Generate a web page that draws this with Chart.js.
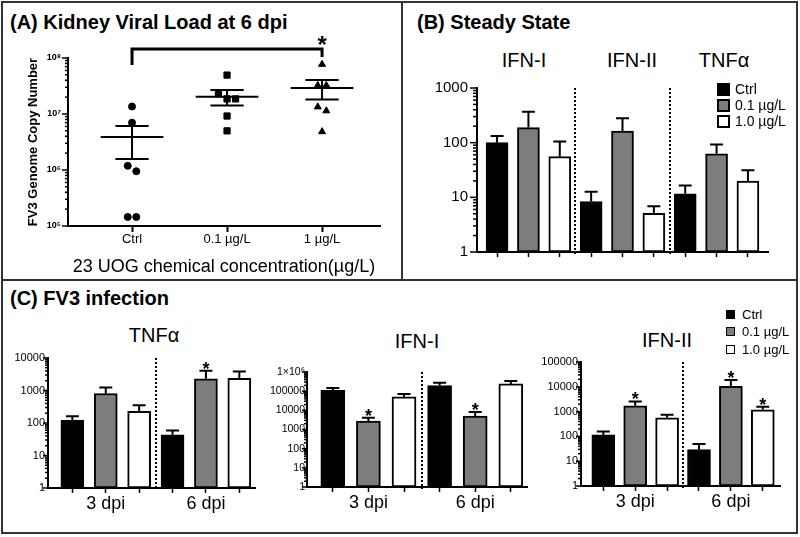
<!DOCTYPE html>
<html lang="en">
<head>
<meta charset="utf-8">
<title>23 UOG chemicals and FV3</title>
<script src="https://cdn.jsdelivr.net/npm/chart.js@4.4.1/dist/chart.umd.min.js"></script>
<style>
  body { margin: 0; width: 800px; height: 537px; position: relative; overflow: hidden; background: #fff;
         font-family: "Liberation Sans", Arial, Helvetica, sans-serif; color: #000; }
  canvas, .txt { position: absolute; }
  .txt { white-space: nowrap; line-height: 20px; }
  .panel { font-size: 20px; font-weight: bold; }
  .group { font-size: 20px; transform: translateX(-50%); }
  .frame { position: absolute; box-sizing: border-box; border: 2px solid #333; }
  .rule { position: absolute; background: #333; }
  .key { position: absolute; display: flex; align-items: center; white-space: nowrap; }
  .key .box { box-sizing: border-box; border: 2px solid #000; display: inline-block; }
</style>
</head>
<body>
<div class="frame" style="left:1px;top:1px;width:797px;height:533px"></div>
<div class="rule" style="left:401px;top:1px;width:2px;height:280px"></div>
<div class="rule" style="left:1px;top:279px;width:797px;height:2px"></div>

<div class="txt panel" style="left:10px;top:12px">(A) Kidney Viral Load at 6 dpi</div>
<div class="txt panel" style="left:417px;top:12px">(B) Steady State</div>
<div class="txt panel" style="left:10px;top:288px">(C) FV3 infection</div>

<div class="txt group" style="left:524px;top:50px">IFN-I</div>
<div class="txt group" style="left:632px;top:50px">IFN-II</div>
<div class="txt group" style="left:724px;top:50px">TNFα</div>

<div class="txt group" style="left:154px;top:325px">TNFα</div>
<div class="txt group" style="left:417px;top:331px">IFN-I</div>
<div class="txt group" style="left:667px;top:330px">IFN-II</div>

<canvas id="chartA" width="372" height="248" style="left:20px;top:30px"></canvas>
<canvas id="chartB" width="360" height="200" style="left:420px;top:70px"></canvas>
<canvas id="chartTnf" width="262" height="167" style="left:0px;top:348px"></canvas>
<canvas id="chartIfn1" width="270" height="167" style="left:262px;top:348px"></canvas>
<canvas id="chartIfn2" width="262" height="167" style="left:532px;top:348px"></canvas>

<script>
// (A) kidney viral load, FV3 genome copies per animal
const groupsA = ['Ctrl', '0.1 µg/L', '1 µg/L'];
const ctrlLoad = [1.36e7, 7.0e6, 1.19e6, 9.5e5, 1.45e5, 1.45e5];
const low01Load = [4.95e7, 2.3e7, 1.86e7, 1.86e7, 9.2e6, 5.0e6];
const high1Load = [7.7e7, 3.24e7, 3.24e7, 1.34e7, 1.14e7, 4.84e6];
const meanLoad = [3.9e6, 2.03e7, 2.9e7];
const semHiLoad = [6.1e6, 2.67e7, 4.04e7];
const semLoLoad = [1.58e6, 1.42e7, 1.81e7];
const compareA = [[0, 2]];
const ticksA = [1e5, 1e6, 1e7, 1e8];
const tickLabelsA = ['10⁵', '10⁶', '10⁷', '10⁸'];

// treatments shared by B and C
const treatments = ['Ctrl', '0.1 µg/L', '1.0 µg/L'];
const fills = ['#000000', '#7d7d7d', '#ffffff'];

// (B) steady state, groups IFN-I / IFN-II / TNFα
const steadyCtrl = [100, 8.4, 11.6];
const steadyCtrlErr = [133, 12.7, 16.5];
const steady01 = [189, 163, 62.4];
const steady01Err = [367, 280, 93];
const steady10 = [55.4, 5.1, 19.8];
const steady10Err = [105, 6.9, 31.3];
const ticksB = [1, 10, 100, 1000];
const tickLabelsB = ['1', '10', '100', '1000'];

// (C) FV3 infection, groups 3 dpi / 6 dpi
const days = ['3 dpi', '6 dpi'];
const tnfCtrl = [124, 43.6], tnfCtrlErr = [162, 59];
const tnf01 = [808, 2300], tnf01Err = [1240, 4060], tnf01Sig = [false, true];
const tnf10 = [230, 2350], tnf10Err = [352, 3870];
const ifn1Ctrl = [112000, 195000], ifn1CtrlErr = [148000, 279000];
const ifn101 = [2750, 5000], ifn101Err = [4080, 8100], ifn101Sig = [true, true];
const ifn110 = [50400, 238000], ifn110Err = [72000, 341000];
const ifn2Ctrl = [115, 29.4], ifn2CtrlErr = [157, 49.9];
const ifn201 = [1720, 10400], ifn201Err = [2570, 18700], ifn201Sig = [true, true];
const ifn210 = [562, 1180], ifn210Err = [741, 1560], ifn210Sig = [false, true];
const ticksTnf = [1, 10, 100, 1000, 10000];
const tickLabelsTnf = ['1', '10', '100', '1000', '10000'];
const ticksIfn1 = [1, 10, 100, 1000, 10000, 100000, 1000000];
const tickLabelsIfn1 = ['1', '10', '100', '1000', '10000', '100000', '1×10⁶'];
const ticksIfn2 = [1, 10, 100, 1000, 10000, 100000];
const tickLabelsIfn2 = ['1', '10', '100', '1000', '10000', '100000'];

const FONT = "'Liberation Sans', Arial, Helvetica, sans-serif";
Chart.defaults.font.family = FONT;
Chart.defaults.color = '#000';
Chart.defaults.animation = false;
Chart.defaults.plugins.legend.display = false;
Chart.defaults.plugins.tooltip.enabled = false;

// prism-like log axis ticks: long at decades, short at 2..9
const logTickMarks = {
    id: 'logTickMarks',
    afterDraw(chart, args, o) {
        const ys = chart.scales.y, ctx = chart.ctx, x0 = chart.chartArea.left;
        ctx.save();
        ctx.strokeStyle = '#000';
        ctx.lineWidth = o.width;
        for (let e = Math.floor(Math.log10(ys.min)); e <= Math.ceil(Math.log10(ys.max)); e++) {
            for (let m = 1; m <= 9; m++) {
                const v = m * Math.pow(10, e);
                if (v < ys.min * 0.999 || v > ys.max * 1.001) continue;
                const py = ys.getPixelForValue(v);
                ctx.beginPath();
                ctx.moveTo(x0, py);
                ctx.lineTo(x0 - (m === 1 ? o.major : o.minor), py);
                ctx.stroke();
            }
        }
        ctx.restore();
    }
};

// upper error bar + significance star for each bar
const errorBars = {
    id: 'errorBars',
    afterDatasetsDraw(chart, args, o) {
        const ys = chart.scales.y, ctx = chart.ctx;
        chart.data.datasets.forEach((ds, di) => {
            if (!ds.err) return;
            chart.getDatasetMeta(di).data.forEach((bar, i) => {
                const top = ys.getPixelForValue(ds.err[i]);
                ctx.save();
                ctx.strokeStyle = '#000';
                ctx.lineWidth = 2;
                ctx.beginPath();
                ctx.moveTo(bar.x, bar.y);
                ctx.lineTo(bar.x, top);
                ctx.moveTo(bar.x - o.cap / 2, top);
                ctx.lineTo(bar.x + o.cap / 2, top);
                ctx.stroke();
                if (ds.sig && ds.sig[i]) {
                    ctx.fillStyle = '#000';
                    ctx.font = 'bold 18px ' + FONT;
                    ctx.textAlign = 'center';
                    ctx.textBaseline = 'alphabetic';
                    ctx.fillText('*', bar.x, top + 4);
                }
                ctx.restore();
            });
        });
    }
};

// dotted lines between groups
const separators = {
    id: 'separators',
    afterDatasetsDraw(chart, args, o) {
        const xs = chart.scales.x, a = chart.chartArea, ctx = chart.ctx;
        ctx.save();
        ctx.strokeStyle = '#000';
        ctx.lineWidth = 2;
        ctx.setLineDash([2, 2]);
        (o.at || []).forEach(v => {
            const px = Math.round(xs.getPixelForValue(v));
            ctx.beginPath();
            ctx.moveTo(px, a.top);
            ctx.lineTo(px, a.bottom + 2);
            ctx.stroke();
        });
        ctx.restore();
    }
};

// mean +/- SEM lines and the comparison bracket for panel A
const meanSem = {
    id: 'meanSem',
    afterDatasetsDraw(chart) {
        const xs = chart.scales.x, ys = chart.scales.y, ctx = chart.ctx, a = chart.chartArea;
        ctx.save();
        ctx.strokeStyle = '#000';
        ctx.lineWidth = 2;
        meanLoad.forEach((m, i) => {
            const xm = xs.getPixelForValue(i);
            const half = xs.getPixelForValue(i + 0.33) - xm;
            const cap = xs.getPixelForValue(i + 0.175) - xm;
            const yHi = ys.getPixelForValue(semHiLoad[i]), yLo = ys.getPixelForValue(semLoLoad[i]);
            ctx.beginPath();
            ctx.moveTo(xm - half, ys.getPixelForValue(m));
            ctx.lineTo(xm + half, ys.getPixelForValue(m));
            ctx.moveTo(xm, yHi); ctx.lineTo(xm, yLo);
            ctx.moveTo(xm - cap, yHi); ctx.lineTo(xm + cap, yHi);
            ctx.moveTo(xm - cap, yLo); ctx.lineTo(xm + cap, yLo);
            ctx.stroke();
        });
        ctx.lineWidth = 3;
        compareA.forEach(([g1, g2]) => {
            const x1 = xs.getPixelForValue(g1), x2 = xs.getPixelForValue(g2), yb = a.top - 9;
            ctx.beginPath();
            ctx.moveTo(x1, a.top + 7);
            ctx.lineTo(x1, yb);
            ctx.lineTo(x2, yb);
            ctx.lineTo(x2, a.top - 1);
            ctx.stroke();
            ctx.fillStyle = '#000';
            ctx.font = 'bold 24px ' + FONT;
            ctx.textAlign = 'center';
            ctx.fillText('*', x2, a.top - 5);
        });
        ctx.restore();
    }
};

// points with close values are placed side by side, like a prism scatter
function spreadPoints(values, group) {
    const out = [];
    let cluster = [];
    const flush = () => {
        cluster.forEach((v, k) => out.push({ x: group + (k - (cluster.length - 1) / 2) * 0.09, y: v }));
        cluster = [];
    };
    values.forEach(v => {
        if (cluster.length && Math.log10(cluster[cluster.length - 1]) - Math.log10(v) > 0.12) flush();
        cluster.push(v);
    });
    flush();
    return out;
}

function fixed(size) {
    return s => { if (s.isHorizontal()) s.height = size; else s.width = size; };
}

new Chart(document.getElementById('chartA'), {
    type: 'scatter',
    data: {
        datasets: [
            { label: groupsA[0], data: spreadPoints(ctrlLoad, 0), pointStyle: 'circle', pointRadius: 3.5 },
            { label: groupsA[1], data: spreadPoints(low01Load, 1), pointStyle: 'rect', pointRadius: 4.4 },
            { label: groupsA[2], data: spreadPoints(high1Load, 2), pointStyle: 'triangle', pointRadius: 4 }
        ].map(d => Object.assign(d, { backgroundColor: '#000', borderColor: '#000', borderWidth: 1 }))
    },
    options: {
        responsive: false,
        layout: { padding: { top: 28, right: 12, left: 0, bottom: 0 } },
        scales: {
            x: {
                type: 'linear', min: -0.674, max: 2.61, offset: false,
                afterBuildTicks: s => { s.ticks = groupsA.map((_, i) => ({ value: i })); },
                afterFit: fixed(52),
                ticks: { callback: (v, i) => groupsA[i], font: { size: 13 }, padding: 0, maxRotation: 0, autoSkip: false },
                grid: { drawOnChartArea: false, drawTicks: true, tickLength: 6, tickWidth: 2, tickColor: '#000', offset: false },
                border: { color: '#000', width: 2 },
                title: { display: true, text: '23 UOG chemical concentration(µg/L)', font: { size: 18 }, padding: { top: 0, bottom: 0 } }
            },
            y: {
                type: 'logarithmic', min: 1e5, max: 1e8,
                afterBuildTicks: s => { s.ticks = ticksA.map(v => ({ value: v })); },
                afterFit: fixed(48),
                ticks: { callback: (v, i) => tickLabelsA[i], font: { size: 9, weight: 'bold' }, padding: 7, autoSkip: false },
                grid: { drawOnChartArea: false, drawTicks: false },
                border: { color: '#000', width: 2 },
                title: { display: true, text: 'FV3 Genome Copy Number', font: { size: 13, weight: 'bold' }, padding: { top: 6, bottom: 0 } }
            }
        },
        plugins: { logTickMarks: { major: 6, minor: 3, width: 1.5 } }
    },
    plugins: [logTickMarks, meanSem]
});

// grouped bar panel: series[t] holds one value per group, bar index = group * 3 + t
function barPanel(id, cfg) {
    const n = cfg.series[0].length;
    const datasets = cfg.series.map((vals, t) => ({
        label: treatments[t],
        data: vals.map((v, g) => ({ x: g * 3 + t, y: v })),
        err: cfg.errors[t],
        sig: cfg.sig[t],
        backgroundColor: fills[t],
        borderColor: '#000',
        borderWidth: 2,
        borderSkipped: false,
        barThickness: cfg.barWidth,
        grouped: false
    }));
    const positions = [];
    for (let i = 0; i < n * 3; i++) positions.push(i);
    const seps = [];
    for (let g = 1; g < n; g++) seps.push(g * 3 - 0.5);
    return new Chart(document.getElementById(id), {
        type: 'bar',
        data: { datasets },
        options: {
            responsive: false,
            layout: { padding: { top: cfg.padTop, right: cfg.padRight, left: 0, bottom: 0 } },
            scales: {
                x: {
                    type: 'linear', min: cfg.xMin, max: cfg.xMax, offset: false,
                    afterBuildTicks: s => { s.ticks = positions.map(v => ({ value: v })); },
                    afterFit: fixed(cfg.xHeight),
                    ticks: {
                        callback: v => (cfg.labels && v % 3 === 1) ? cfg.labels[(v - 1) / 3] : '',
                        font: { size: 18 }, padding: 0, maxRotation: 0, autoSkip: false
                    },
                    grid: { drawOnChartArea: false, drawTicks: true, tickLength: 5, tickWidth: 1.5, tickColor: '#000', offset: false },
                    border: { color: '#000', width: 2 }
                },
                y: {
                    type: 'logarithmic', min: cfg.ticks[0], max: cfg.ticks[cfg.ticks.length - 1],
                    afterBuildTicks: s => { s.ticks = cfg.ticks.map(v => ({ value: v })); },
                    afterFit: fixed(cfg.yWidth),
                    ticks: { callback: (v, i) => cfg.tickLabels[i], font: { size: cfg.tickFont }, padding: cfg.tickPad, autoSkip: false },
                    grid: { drawOnChartArea: false, drawTicks: false },
                    border: { color: '#000', width: 2 }
                }
            },
            plugins: {
                logTickMarks: { major: cfg.major, minor: cfg.minor, width: 1.5 },
                errorBars: { cap: 13 },
                separators: { at: seps }
            }
        },
        plugins: [logTickMarks, errorBars, separators]
    });
}

barPanel('chartB', {
    series: [steadyCtrl, steady01, steady10],
    errors: [steadyCtrlErr, steady01Err, steady10Err],
    sig: [null, null, null],
    ticks: ticksB, tickLabels: tickLabelsB,
    xMin: -0.64, xMax: 8.64, barWidth: 22,
    padTop: 13, padRight: 12, xHeight: 12, yWidth: 57,
    tickFont: 15, tickPad: 9, major: 7, minor: 4
});

barPanel('chartTnf', {
    series: [tnfCtrl, tnf01, tnf10],
    errors: [tnfCtrlErr, tnf01Err, tnf10Err],
    sig: [null, tnf01Sig, null],
    labels: days, ticks: ticksTnf, tickLabels: tickLabelsTnf,
    xMin: -0.73, xMax: 5.47, barWidth: 23,
    padTop: 10, padRight: 7, xHeight: 27, yWidth: 48,
    tickFont: 11, tickPad: 3, major: 5, minor: 3
});

barPanel('chartIfn1', {
    series: [ifn1Ctrl, ifn101, ifn110],
    errors: [ifn1CtrlErr, ifn101Err, ifn110Err],
    sig: [null, ifn101Sig, null],
    labels: days, ticks: ticksIfn1, tickLabels: tickLabelsIfn1,
    xMin: -0.725, xMax: 5.455, barWidth: 24,
    padTop: 24, padRight: 5, xHeight: 28, yWidth: 45,
    tickFont: 10.5, tickPad: 2, major: 5, minor: 3
});

barPanel('chartIfn2', {
    series: [ifn2Ctrl, ifn201, ifn210],
    errors: [ifn2CtrlErr, ifn201Err, ifn210Err],
    sig: [null, ifn201Sig, ifn210Sig],
    labels: days, ticks: ticksIfn2, tickLabels: tickLabelsIfn2,
    xMin: -0.70, xMax: 5.54, barWidth: 23,
    padTop: 14, padRight: 14, xHeight: 29, yWidth: 49,
    tickFont: 11, tickPad: 3, major: 5, minor: 3
});

// legends
function buildKey(left, top, step, box, border, size, gap) {
    treatments.forEach((t, i) => {
        const row = document.createElement('div');
        row.className = 'key';
        row.style.left = left + 'px';
        row.style.top = (top + i * step) + 'px';
        row.style.height = box + 'px';
        row.style.fontSize = size + 'px';
        row.innerHTML = `<span class="box" style="width:${box}px;height:${box}px;border-width:${border}px;background:${fills[i]};margin-right:${gap}px"></span>${t}`;
        document.body.appendChild(row);
    });
}
buildKey(717, 82.5, 16, 13, 2, 14, 5);
buildKey(726, 310, 17.4, 9, 1.5, 13, 7);
</script>
</body>
</html>
